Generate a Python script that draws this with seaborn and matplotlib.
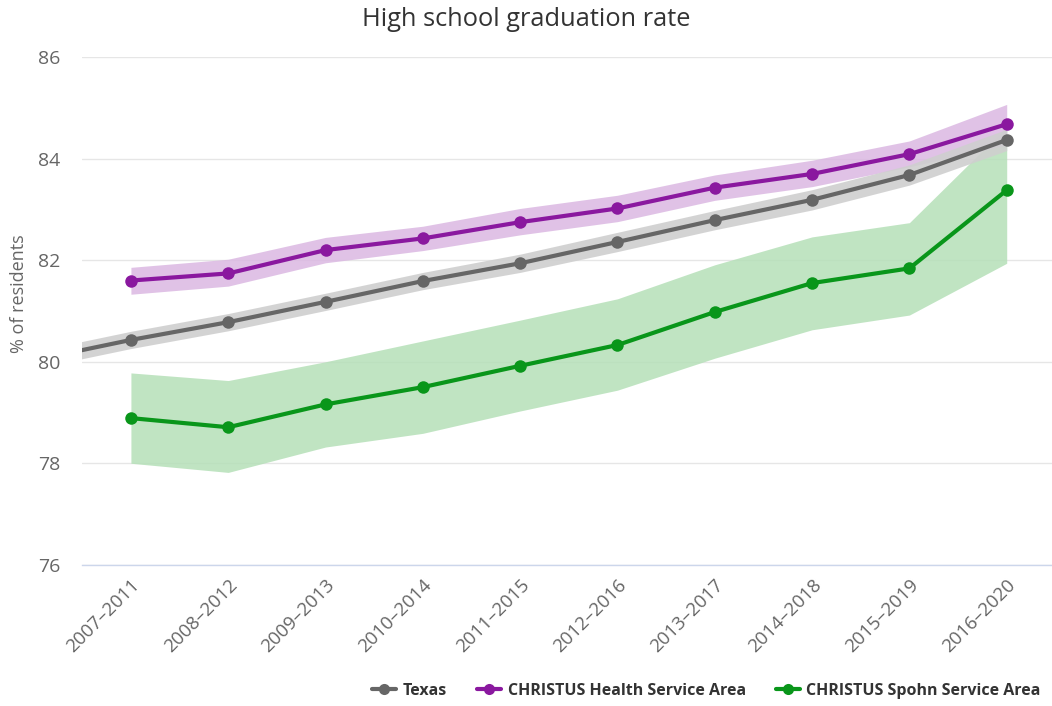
import matplotlib
matplotlib.use("Agg")
import matplotlib.pyplot as plt
import seaborn as sns
import numpy as np
import pandas as pd
from matplotlib.lines import Line2D

# --- data ---
periods = ["2007–2011", "2008–2012", "2009–2013", "2010–2014", "2011–2015",
           "2012–2016", "2013–2017", "2014–2018", "2015–2019", "2016–2020"]

# Texas also has an earlier period that sits just outside the visible axis
texas_periods = ["2006–2010"] + periods
texas = [80.03, 80.43, 80.78, 81.18, 81.59, 81.94, 82.36, 82.79, 83.19, 83.68, 84.37]
texas_lo = [79.86, 80.26, 80.61, 81.01, 81.42, 81.76, 82.17, 82.60, 82.99, 83.48, 84.16]
texas_hi = [80.20, 80.60, 80.95, 81.35, 81.76, 82.12, 82.55, 82.98, 83.39, 83.88, 84.58]

health = [81.60, 81.74, 82.20, 82.43, 82.75, 83.02, 83.43, 83.70, 84.09, 84.68]
health_lo = [81.33, 81.49, 81.95, 82.19, 82.50, 82.76, 83.18, 83.45, 83.84, 84.27]
health_hi = [81.86, 82.02, 82.45, 82.67, 83.02, 83.28, 83.68, 83.97, 84.35, 85.07]

spohn = [78.89, 78.71, 79.16, 79.50, 79.92, 80.33, 80.98, 81.55, 81.84, 83.38]
spohn_lo = [78.00, 77.82, 78.32, 78.59, 79.03, 79.44, 80.07, 80.63, 80.92, 81.94]
spohn_hi = [79.78, 79.63, 80.00, 80.41, 80.82, 81.24, 81.91, 82.46, 82.74, 84.63]

series_names = ["Texas", "CHRISTUS Health Service Area", "CHRISTUS Spohn Service Area"]
line_colors = {"Texas": "#666666",
               "CHRISTUS Health Service Area": "#8a189f",
               "CHRISTUS Spohn Service Area": "#09961a"}
band_colors = {"Texas": "#cfcfcf",
               "CHRISTUS Health Service Area": "#dbb8e2",
               "CHRISTUS Spohn Service Area": "#b5e0b8"}

# position of each period on the category axis
pos = {p: i for i, p in enumerate(periods)}
pos["2006–2010"] = -1

rows = []
for name, per, vals, lo, hi in [
    ("Texas", texas_periods, texas, texas_lo, texas_hi),
    ("CHRISTUS Health Service Area", periods, health, health_lo, health_hi),
    ("CHRISTUS Spohn Service Area", periods, spohn, spohn_lo, spohn_hi),
]:
    for p, v, l, h in zip(per, vals, lo, hi):
        rows.append({"series": name, "period": p, "x": pos[p], "value": v, "lo": l, "hi": h})
df = pd.DataFrame(rows)

sns.set_theme(style="white")
plt.rcParams['font.family'] = ['Open Sans', 'DejaVu Sans']

fig = plt.figure(figsize=(10.52, 7.06), dpi=100)
ax = fig.add_axes([0.0782, 0.200, 0.925, 0.719])

# bands first, Spohn at the back
for name in ["CHRISTUS Spohn Service Area", "CHRISTUS Health Service Area", "Texas"]:
    d = df[df["series"] == name]
    ax.fill_between(d["x"], d["lo"], d["hi"], color=band_colors[name],
                    alpha=0.85 if name != "Texas" else 0.9, linewidth=0, zorder=1)

for name in ["CHRISTUS Spohn Service Area", "CHRISTUS Health Service Area", "Texas"]:
    d = df[df["series"] == name]
    sns.lineplot(data=d, x="x", y="value", color=line_colors[name], marker="o",
                 markersize=9, markeredgewidth=0, linewidth=3, ax=ax, zorder=3,
                 legend=False)

ax.set_xlim(-0.5, 9.5)
ax.set_ylim(76, 86)
ax.set_yticks([76, 78, 80, 82, 84, 86])
ax.set_xticks(range(len(periods)))
ax.set_xticklabels(periods, rotation=45, ha="right", rotation_mode="anchor")

ax.grid(axis="y", color="#e6e6e6", linewidth=1)
ax.set_axisbelow(True)
for s in ["top", "right", "left"]:
    ax.spines[s].set_visible(False)
ax.spines["bottom"].set_color("#ccd6eb")
ax.spines["bottom"].set_linewidth(1)

ax.tick_params(axis="y", length=0, pad=16, labelsize=14, labelcolor="#666666")
ax.tick_params(axis="x", length=0, pad=8, labelsize=13.5, labelcolor="#666666")

ax.set_xlabel("")
ax.set_ylabel("% of residents", fontsize=13, color="#666666")
ax.yaxis.set_label_coords(-0.056, 0.535)

fig.suptitle("High school graduation rate", x=0.5, y=0.99, fontsize=18.3, color="#333333")

handles = [Line2D([0], [0], color=line_colors[n], marker="o", markersize=8,
                  linewidth=3, markeredgewidth=0) for n in series_names]
leg = fig.legend(handles, series_names, loc="lower right", bbox_to_anchor=(1.003, -0.01),
                 ncol=3, frameon=False, handlelength=1.5, handletextpad=0.4,
                 columnspacing=1.9, prop={"size": 11.5, "weight": "bold"})
for t in leg.get_texts():
    t.set_color("#333333")

fig.savefig("out.png", dpi=100)
